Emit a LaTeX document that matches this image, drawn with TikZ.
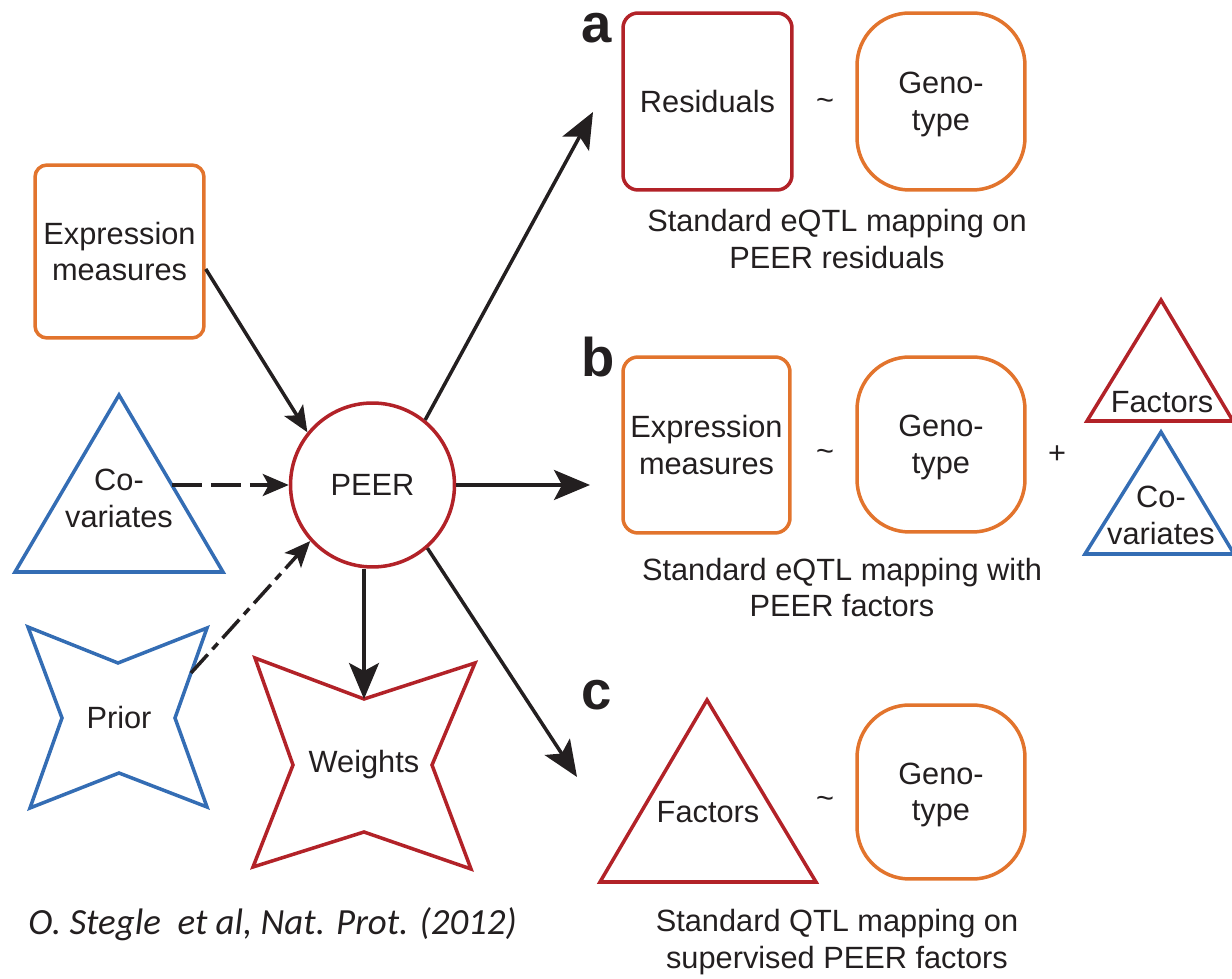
\documentclass[tikz,border=0pt]{standalone}
\usepackage{fontspec}
\setmainfont{Liberation Sans}
\newfontfamily\citefont{Carlito}
\usetikzlibrary{arrows.meta}
\definecolor{pred}{RGB}{178,34,40}
\definecolor{porange}{RGB}{226,116,45}
\definecolor{pblue}{RGB}{52,109,180}
\definecolor{ptext}{RGB}{35,31,32}
\begin{document}
\begin{tikzpicture}[x=0.02cm,y=-0.02cm,
  every node/.style={text=ptext, font=\fontsize{17.5}{21}\selectfont, align=center, inner sep=0pt},
  shapeline/.style={line width=2pt, line join=miter},
  rbox/.style={draw, line width=2pt, rectangle, rounded corners=#1},
  genobox/.style={rbox=1.05cm, draw=porange, minimum width=3.36cm},
  genotext/.style={yshift=-0.06cm},
  bigarrow/.style={line width=2pt, draw=ptext, -{Stealth[length=0.72cm,width=0.6cm,inset=0.16cm]}},
  smallarrow/.style={line width=2pt, draw=ptext, -{Stealth[length=0.52cm,width=0.44cm,inset=0.12cm]}},
  letter/.style={font=\fontsize{31}{36}\selectfont\bfseries, anchor=base}
]
\useasboundingbox (0,0) rectangle (1232,979);

% ---------- left side ----------
\node[rbox=0.24cm, draw=porange, minimum width=3.38cm, minimum height=3.46cm] (expr) at (119.5,251.5) {Expression\\measures};

\node[circle, draw=pred, line width=2pt, minimum size=3.28cm] (peer) at (372.5,485) {PEER};

\draw[shapeline, draw=pblue] (119,395) -- (223,572) -- (15,572) -- cycle;
\node (cov) at (119,498) {Co-\\variates};
\coordinate (covR) at (172,485);

\draw[shapeline, draw=pblue] (28,627) -- (118,663) -- (207,628) -- (175,718) -- (207,807) -- (119,773) -- (30,808) -- (62,718) -- cycle;
\node (prior) at (119,718) {Prior};
\coordinate (priorR) at (191,673);

\draw[shapeline, draw=pred] (255,658) -- (364,699) -- (475,663) -- (432,765) -- (471,869) -- (364,832) -- (253,867) -- (293,765) -- cycle;
\node (weights) at (364,765) {Weights};
\coordinate (wtop) at (364,699);

\coordinate (aend) at (593,112);
\coordinate (bend) at (590,485);
\coordinate (cend) at (577,777);

% ---------- connectors ----------
\draw[smallarrow] ([yshift=-0.35cm]expr.east) -- (peer.141);
\draw[smallarrow, dash pattern=on 0.6cm off 0.18cm] (covR) -- (peer.west);
\draw[smallarrow, dash pattern=on 0.5cm off 0.14cm on 0.16cm off 0.14cm] (priorR) -- (peer.222);
\draw[bigarrow] (peer.south -| wtop) -- (wtop);
\draw[bigarrow] (peer.51) -- (aend);
\draw[bigarrow] (peer.east) -- (bend);
\draw[bigarrow] (peer.311) -- (cend);

% ---------- panel a ----------
\node[letter] (la) at (597,43) {a};
\node[rbox=0.3cm, draw=pred, minimum width=3.38cm, minimum height=3.54cm] (resid) at (707.5,101.5) {Residuals};
\node (tila) at (825,104) {\textasciitilde};
\node[genobox, minimum height=3.54cm] (genoa) at (941,101.5) {};
\node[genotext] (genoat) at (genoa) {Geno-\\type};
\node (capa) at (837,239) {Standard eQTL mapping on\\PEER residuals};

% ---------- panel b ----------
\node[letter] (lb) at (598,377) {b};
\node[rbox=0.3cm, draw=porange, minimum width=3.34cm, minimum height=3.52cm] (exprb) at (706.5,445) {Expression\\measures};
\node (tilb) at (825,455) {\textasciitilde};
\node[genobox, minimum height=3.5cm] (genob) at (941,444.5) {};
\node[genotext] (genobt) at (genob) {Geno-\\type};
\node (plus) at (1057,455) {+};
\draw[shapeline, draw=pred] (1161,300) -- (1233,421) -- (1087,421) -- cycle;
\node (facb) at (1162,402) {Factors};
\draw[shapeline, draw=pblue] (1161,432) -- (1234,554) -- (1085,554) -- cycle;
\node (covb) at (1161,515) {Co-\\variates};
\node (capb) at (842,587.5) {Standard eQTL mapping with\\PEER factors};

% ---------- panel c ----------
\node[letter] (lc) at (597,710) {c};
\draw[shapeline, draw=pred] (707,700) -- (816,882) -- (600,882) -- cycle;
\node (facc) at (708,812) {Factors};
\node (tilc) at (825,802) {\textasciitilde};
\node[genobox, minimum height=3.48cm] (genoc) at (941,792) {};
\node[genotext] (genoct) at (genoc) {Geno-\\type};
\node (capc) at (837,942.5) {Standard QTL mapping on\\supervised PEER factors};

% ---------- citation ----------
\node[anchor=base west, font=\citefont\fontsize{21}{25}\selectfont\itshape] (cite) at (28,935) {O. Stegle\ \ et al, Nat. Prot. (2012)};
\end{tikzpicture}
\end{document}
